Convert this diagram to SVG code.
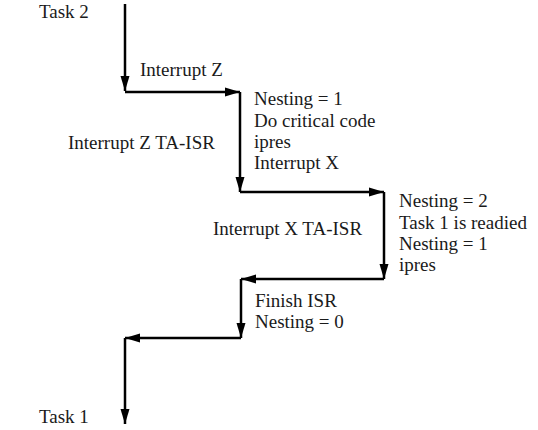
<svg xmlns="http://www.w3.org/2000/svg" width="538" height="430" viewBox="0 0 538 430">
<style>
text { font-family: 'Liberation Serif', 'Times New Roman', serif; font-size: 19px; fill: #1a1a1a; }
.c { stroke: #000; stroke-width: 2.5; fill: none; marker-end: url(#ah); }
</style>
<defs>
<marker id="ah" markerUnits="userSpaceOnUse" markerWidth="16" markerHeight="10" refX="15" refY="5" orient="auto">
<path d="M0,0.5 L15,5 L0,9.5 z" fill="#000"/>
</marker>
</defs>
<rect width="538" height="430" fill="#fff"/>
<g id="connectors">
<path class="c" d="M125,4 V91"/>
<path class="c" d="M125,92 H240"/>
<path class="c" d="M240,92 V192"/>
<path class="c" d="M240,192 H384"/>
<path class="c" d="M384,192 V279"/>
<path class="c" d="M384,279 H241"/>
<path class="c" d="M241,279 V338"/>
<path class="c" d="M241,338 H125"/>
<path class="c" d="M125,338 V424"/>
</g>
<g id="task2"><text x="39" y="18">Task 2</text></g>
<g id="interruptZ"><text x="140" y="76">Interrupt Z</text></g>
<g id="isrZ">
<text x="254" y="105">Nesting = 1</text>
<text x="254" y="127">Do critical code</text>
<text x="254" y="148">ipres</text>
<text x="254" y="169">Interrupt X</text>
</g>
<g id="isrZLabel"><text x="68" y="149">Interrupt Z TA-ISR</text></g>
<g id="isrX">
<text x="399" y="207">Nesting = 2</text>
<text x="399" y="229">Task 1 is readied</text>
<text x="399" y="250">Nesting = 1</text>
<text x="399" y="271">ipres</text>
</g>
<g id="isrXLabel"><text x="213" y="235">Interrupt X TA-ISR</text></g>
<g id="finish">
<text x="255" y="307">Finish ISR</text>
<text x="255" y="328">Nesting = 0</text>
</g>
<g id="task1"><text x="39" y="423">Task 1</text></g>
</svg>
